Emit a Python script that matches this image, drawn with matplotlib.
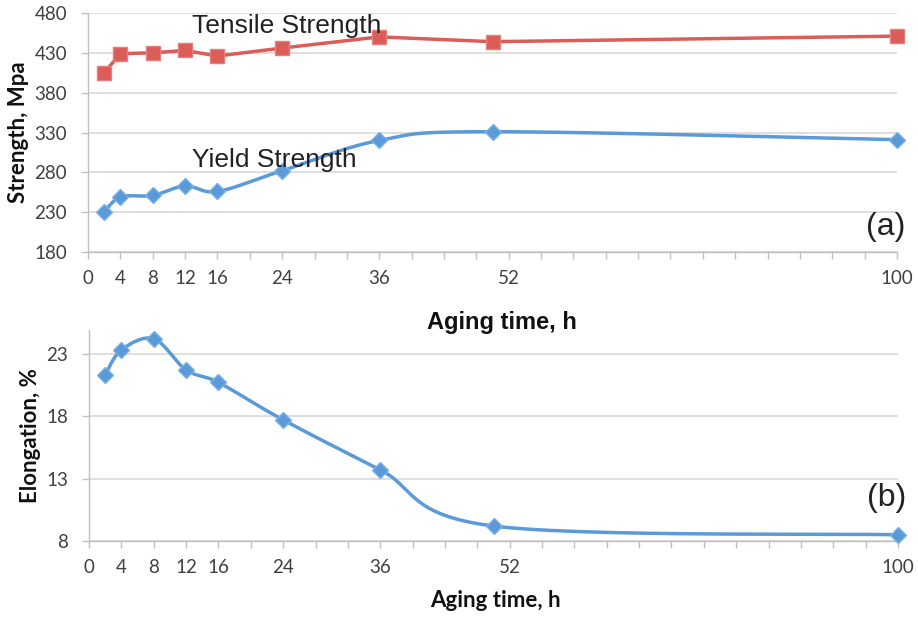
import numpy as np
import matplotlib
matplotlib.use("Agg")
import matplotlib.pyplot as plt

# ---- data ----
aging_time = [2, 4, 8, 12, 16, 24, 36, 50, 100]
tensile = [405, 429, 430, 433, 426, 436, 450, 444, 451]
yield_s = [230, 249, 251, 263, 256, 282, 320, 331, 321]
elongation = [21.3, 23.3, 24.2, 21.7, 20.7, 17.7, 13.7, 9.2, 8.5]
x_tick_labels = [0, 4, 8, 12, 16, 24, 36, 52, 100]
strength_ticks = [180, 230, 280, 330, 380, 430, 480]
elong_ticks = [8, 13, 18, 23]

RED = "#dc5c58"
BLUE = "#5a9ad8"
GRID = "#d9d9d9"
AXC = "#bfbfbf"
TXT = "#404040"


def smooth(x, y, n=30):
    """Excel-like smoothed line (cubic Bezier with Catmull-Rom control points)."""
    x = np.asarray(x, float)
    y = np.asarray(y, float)
    px, py = [], []
    m = len(x)
    for i in range(m - 1):
        x0, y0 = (x[i - 1], y[i - 1]) if i > 0 else (x[i], y[i])
        x3, y3 = (x[i + 2], y[i + 2]) if i + 2 < m else (x[i + 1], y[i + 1])
        x1, y1 = x[i], y[i]
        x2, y2 = x[i + 1], y[i + 1]
        c1x, c1y = x1 + (x2 - x0) / 6, y1 + (y2 - y0) / 6
        c2x, c2y = x2 - (x3 - x1) / 6, y2 - (y3 - y1) / 6
        t = np.linspace(0, 1, n)
        bx = (1 - t) ** 3 * x1 + 3 * (1 - t) ** 2 * t * c1x + 3 * (1 - t) * t ** 2 * c2x + t ** 3 * x2
        by = (1 - t) ** 3 * y1 + 3 * (1 - t) ** 2 * t * c1y + 3 * (1 - t) * t ** 2 * c2y + t ** 3 * y2
        px.extend(bx)
        py.extend(by)
    return np.array(px), np.array(py)


W, H = 918, 617
fig = plt.figure(figsize=(W / 100, H / 100), dpi=100)


def axes_px(l, t, r, b):
    return fig.add_axes([l / W, 1 - b / H, (r - l) / W, (b - t) / H])


def style(ax, yticks, ylo, yhi):
    ax.set_xlim(0, 100)
    ax.set_ylim(ylo, yhi)
    ax.set_xticks(np.arange(0, 101, 4))
    ax.set_xticklabels([str(v) if v in x_tick_labels else "" for v in np.arange(0, 101, 4)])
    ax.set_yticks(yticks)
    ax.set_yticklabels([str(v) for v in yticks])
    ax.grid(axis="y", color=GRID, linewidth=1.2)
    ax.set_axisbelow(True)
    ax.patch.set_visible(False)
    for s in ["top", "right"]:
        ax.spines[s].set_visible(False)
    for s in ["left", "bottom"]:
        ax.spines[s].set_color(AXC)
        ax.spines[s].set_linewidth(1.0)
    ax.tick_params(axis="x", colors=AXC, length=5, width=1, labelcolor=TXT, labelsize=13.5, pad=8)
    ax.tick_params(axis="y", colors=AXC, length=5, width=1, labelcolor=TXT, labelsize=13.5, pad=10)
    for lab in ax.get_xticklabels() + ax.get_yticklabels():
        lab.set_family("Lato")


# ---- top panel ----
ax1 = axes_px(88, 13, 897, 252)
style(ax1, strength_ticks, 180, 480)
ax1.plot(aging_time, tensile, color=RED, linewidth=2.5, marker="s", markersize=9.5,
         markerfacecolor=RED, markeredgecolor="#e47f7b", zorder=3, clip_on=False)
sx, sy = smooth(aging_time, yield_s)
ax1.plot(sx, sy, color=BLUE, linewidth=2.5, zorder=3, clip_on=False)
ax1.plot(aging_time, yield_s, linestyle="none", marker="D", markersize=8.5,
         markerfacecolor=BLUE, markeredgecolor="#7ab0e4", zorder=4, clip_on=False)
ax1.text(0.129, 0.946, "Tensile Strength", transform=ax1.transAxes, fontsize=19,
         family="Liberation Sans", color="#222222", va="center", ha="left", zorder=5)
ax1.text(0.129, 0.385, "Yield Strength", transform=ax1.transAxes, fontsize=19,
         family="Liberation Sans", color="#222222", va="center", ha="left", zorder=5)
ax1.text(1.01, 0.105, "(a)", transform=ax1.transAxes, fontsize=23,
         family="Liberation Sans", color="#222222", va="center", ha="right")
ax1.set_ylabel("Strength, Mpa", fontsize=16, fontweight="bold", family="Lato",
               color="#111111")
ax1.yaxis.set_label_coords(-59 / 809, 0.5)
ax1.set_xlabel("Aging time, h", fontsize=17, fontweight="bold", family="Liberation Sans",
               color="#111111")
ax1.xaxis.set_label_coords(0.512, -59 / 239)

# ---- bottom panel ----
ax2 = axes_px(89, 330, 898, 541)
style(ax2, elong_ticks, 8, 24.9)
ex, ey = smooth(aging_time, elongation)
ax2.plot(ex, ey, color=BLUE, linewidth=2.5, zorder=3, clip_on=False)
ax2.plot(aging_time, elongation, linestyle="none", marker="D", markersize=8.5,
         markerfacecolor=BLUE, markeredgecolor="#7ab0e4", zorder=4, clip_on=False)
ax2.text(1.01, 0.204, "(b)", transform=ax2.transAxes, fontsize=23,
         family="Liberation Sans", color="#222222", va="center", ha="right")
ax2.set_ylabel("Elongation, %", fontsize=16, fontweight="bold", family="Lato",
               color="#111111")
ax2.yaxis.set_label_coords(-48 / 809, 0.5)
ax2.set_xlabel("Aging time, h", fontsize=16, fontweight="bold", family="Lato",
               color="#111111")
ax2.xaxis.set_label_coords(0.503, -49 / 211)

fig.savefig("out.png", dpi=100, facecolor="white")
